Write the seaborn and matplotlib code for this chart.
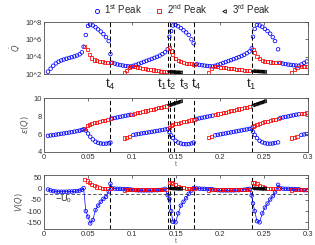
import numpy as np
import pandas as pd
import matplotlib
matplotlib.use("Agg")
import matplotlib.pyplot as plt
from matplotlib.lines import Line2D
import seaborn as sns

# ---- data ----
# 1st peak (blue circles)
t_blue = [0.0045, 0.0075, 0.0105, 0.0135, 0.0165, 0.0195, 0.0225, 0.0255, 0.0285, 0.0315, 0.0345, 0.0375, 0.0405, 0.0430, 0.0450,
          0.0475, 0.0500, 0.0525, 0.0555, 0.0585, 0.0615, 0.0645, 0.0675, 0.0705, 0.0735, 0.0755,
          0.0775, 0.0805, 0.0835, 0.0865, 0.0895, 0.0925, 0.0955, 0.0985,
          0.1015, 0.1045, 0.1075, 0.1105, 0.1135, 0.1165, 0.1195, 0.1225, 0.1255, 0.1285, 0.1315, 0.1345, 0.1375, 0.1405,
          0.1425, 0.1445, 0.1465, 0.1495, 0.1525, 0.1555, 0.1585, 0.1615, 0.1645, 0.1675, 0.1700,
          0.1735, 0.1765, 0.1795, 0.1825, 0.1855, 0.1885, 0.1915,
          0.1945, 0.1975, 0.2005, 0.2035, 0.2065, 0.2095, 0.2125, 0.2155, 0.2185, 0.2215, 0.2245, 0.2275, 0.2305, 0.2335, 0.2360,
          0.2375, 0.2395, 0.2420, 0.2450, 0.2480, 0.2510, 0.2540, 0.2570, 0.2600, 0.2625, 0.2660,
          0.2685, 0.2715, 0.2745, 0.2775, 0.2805, 0.2835, 0.2865, 0.2895,
          0.2925, 0.2955, 0.2985]
logq_blue = [2.27, 2.62, 2.95, 3.22, 3.42, 3.56, 3.67, 3.76, 3.85, 3.94, 4.03, 4.13, 4.27, 4.50, 5.15,
             6.5, 7.55, 7.7, 7.6, 7.4, 7.15, 6.9, 6.6, 6.25, 5.8, 4.3,
             3.3, 3.2, 3.1, 3.04, 2.98, 2.93, 2.89, 2.87,
             2.95, 3.05, 3.17, 3.28, 3.4, 3.52, 3.62, 3.74, 3.86, 3.98, 4.12, 4.3, 4.5, 4.85,
             6.3, 6.95, 7.6, 7.65, 7.5, 7.3, 7.05, 6.8, 6.5, 6.0, 5.55,
             3.12, 3.06, 3.01, 2.97, 2.93, 2.9, 2.87,
             2.95, 3.05, 3.15, 3.27, 3.38, 3.5, 3.6, 3.72, 3.83, 3.95, 4.08, 4.22, 4.4, 4.6, 4.95,
             6.3, 7.2, 7.65, 7.6, 7.45, 7.2, 6.95, 6.65, 6.25, 5.8, 4.85,
             3.28, 3.2, 3.14, 3.09, 3.05, 3.01, 2.98, 2.95,
             3.1, 3.28, 3.45]
eps_blue = [5.80, 5.84, 5.88, 5.93, 5.97, 6.02, 6.06, 6.11, 6.16, 6.21, 6.26, 6.32, 6.38, 6.44, 6.52,
            6.4, 6.05, 5.7, 5.4, 5.15, 5.02, 4.95, 4.92, 4.93, 4.97, 5.05,
            7.72, 7.78, 7.84, 7.9, 7.96, 8.02, 8.08, 8.14,
            5.9, 5.95, 6.0, 6.05, 6.1, 6.14, 6.19, 6.24, 6.29, 6.34, 6.39, 6.44, 6.5, 6.56,
            6.2, 5.85, 5.55, 5.25, 5.05, 4.95, 4.88, 4.86, 4.88, 4.95, 5.05,
            7.68, 7.74, 7.8, 7.86, 7.92, 7.98, 8.04,
            5.85, 5.91, 5.96, 6.02, 6.07, 6.13, 6.18, 6.24, 6.29, 6.35, 6.4, 6.46, 6.51, 6.57, 6.62,
            6.25, 5.9, 5.55, 5.25, 5.08, 4.98, 4.93, 4.92, 4.95, 5.0, 5.07,
            7.78, 7.84, 7.9, 7.96, 8.02, 8.08, 8.14, 8.2,
            5.9, 5.95, 6.0]
v_blue = [-3, -7, -10, -12, -13, -13, -13, -13, -12, -12, -11, -10, -8, -4, 3,
          -100, -125, -155, -140, -95, -75, -58, -45, -36, -12, 23,
          2, 1, 0, 0, -1, -1, -2, -3,
          -5, -6, -7, -7, -7, -7, -7, -7, -6, -6, -5, -4, 0, -28,
          -45, -100, -148, -150, -110, -75, -58, -42, -22, -8, 3,
          2, 1, 0, 0, -1, -1, -2,
          -5, -6, -7, -7, -7, -7, -7, -7, -6, -6, -5, -4, -2, 0, -30,
          -65, -100, -145, -150, -110, -84, -66, -48, -33, -15, 18,
          2, 1, 0, 0, -1, -1, -2, -2,
          -5, -6, -6]

# 2nd peak (red squares)
t_red = [0.0465, 0.0490, 0.0515, 0.0540, 0.0570, 0.0600, 0.0630, 0.0660, 0.0690, 0.0720, 0.0755,
         0.0910, 0.0940, 0.0970,
         0.1000, 0.1030, 0.1060, 0.1090, 0.1120, 0.1150, 0.1180, 0.1210, 0.1240, 0.1270, 0.1300, 0.1330, 0.1360, 0.1390,
         0.1425, 0.1445, 0.1465, 0.1495, 0.1525, 0.1555, 0.1585, 0.1615, 0.1645, 0.1675, 0.1705,
         0.1870, 0.1900,
         0.1945, 0.1975, 0.2005, 0.2035, 0.2065, 0.2095, 0.2125, 0.2155, 0.2185, 0.2215, 0.2245, 0.2275, 0.2305, 0.2335,
         0.2375, 0.2395, 0.2420, 0.2450, 0.2480, 0.2510, 0.2540, 0.2570, 0.2600, 0.2630, 0.2660,
         0.2815, 0.2845, 0.2875,
         0.2925, 0.2955, 0.2985]
logq_red = [5.2, 4.8, 4.3, 3.85, 3.62, 3.52, 3.45, 3.4, 3.36, 3.33, 3.3,
            2.15, 2.45, 2.72,
            2.85, 2.82, 2.78, 2.73, 2.68, 2.62, 2.57, 2.52, 2.46, 2.41, 2.37, 2.33, 2.3, 2.27,
            5.0, 4.65, 4.2, 3.8, 3.55, 3.42, 3.33, 3.26, 3.2, 3.16, 3.13,
            2.2, 2.6,
            2.88, 2.84, 2.8, 2.76, 2.72, 2.68, 2.64, 2.6, 2.56, 2.52, 2.48, 2.44, 2.4, 2.36,
            4.85, 4.45, 4.0, 3.75, 3.58, 3.48, 3.42, 3.38, 3.34, 3.31, 3.28,
            2.2, 2.5, 2.75,
            2.9, 2.88, 2.86]
eps_red = [6.65, 6.9, 7.05, 7.15, 7.23, 7.3, 7.38, 7.46, 7.54, 7.62, 7.7,
           5.55, 5.62, 5.7,
           8.2, 8.27, 8.34, 8.41, 8.48, 8.55, 8.62, 8.69, 8.76, 8.83, 8.9, 8.97, 9.04, 9.11,
           6.7, 6.9, 7.02, 7.12, 7.2, 7.27, 7.34, 7.41, 7.48, 7.55, 7.62,
           5.63, 5.72,
           8.15, 8.22, 8.29, 8.36, 8.43, 8.5, 8.57, 8.64, 8.71, 8.78, 8.85, 8.92, 8.99, 9.06,
           6.8, 6.95, 7.08, 7.18, 7.27, 7.35, 7.43, 7.5, 7.58, 7.66, 7.74,
           5.55, 5.62, 5.7,
           8.25, 8.32, 8.4]
v_red = [42, 35, 28, 20, 13, 8, 5, 3, 2, 1, 0,
         -5, -4, -3,
         -1, -2, -2, -2, -3, -3, -3, -3, -3, -2, -2, -2, -1, -1,
         30, 28, 24, 18, 12, 7, 4, 2, 1, 0, 0,
         -5, -4,
         -1, -2, -2, -2, -3, -3, -3, -3, -3, -2, -2, -2, -1, -1,
         30, 26, 22, 15, 10, 6, 3, 1, 0, 0, 0,
         -5, -4, -3,
         -2, -2, -2]

# 3rd peak (black triangles)
t_black = [0.1420, 0.1435, 0.1450, 0.1465, 0.1480, 0.1495, 0.1510, 0.1525, 0.1540, 0.1555,
           0.2375, 0.2390, 0.2405, 0.2420, 0.2435, 0.2450, 0.2465, 0.2480, 0.2495, 0.2510]
logq_black = [2.26, 2.25, 2.24, 2.23, 2.22, 2.21, 2.2, 2.19, 2.18, 2.17,
              2.33, 2.32, 2.31, 2.3, 2.29, 2.28, 2.27, 2.26, 2.25, 2.24]
eps_black = [9.2, 9.25, 9.3, 9.35, 9.4, 9.45, 9.5, 9.55, 9.6, 9.65,
             9.2, 9.25, 9.3, 9.35, 9.4, 9.45, 9.5, 9.55, 9.6, 9.65]
v_black = [2, 2, 1, 1, 1, 0, 0, 0, 0, 0,
           2, 2, 1, 1, 1, 0, 0, 0, 0, 0]

# event times (dashed lines) and their labels
t_events = [0.0755, 0.1405, 0.1435, 0.1477, 0.1705, 0.2360]
event_labels = ['t_4', 't_1', 't_2', 't_3', 't_4', 't_1']
event_label_x = [0.0750, 0.1340, 0.1450, 0.1590, 0.1735, 0.2360]
u0 = 22

blue = pd.DataFrame({'t': t_blue, 'Q': 10.0 ** np.array(logq_blue), 'eps': eps_blue, 'V': v_blue})
red = pd.DataFrame({'t': t_red, 'Q': 10.0 ** np.array(logq_red), 'eps': eps_red, 'V': v_red})
black = pd.DataFrame({'t': t_black, 'Q': 10.0 ** np.array(logq_black), 'eps': eps_black, 'V': v_black})

sns.set_style('white')
plt.rcParams['font.family'] = ['Liberation Sans', 'DejaVu Sans']
plt.rcParams['axes.unicode_minus'] = False

fig = plt.figure(figsize=(3.15, 2.45), dpi=100)
left, width = 44 / 315, 264 / 315
ax_q = fig.add_axes([left, 1 - 74 / 245, width, 52 / 245])
ax_e = fig.add_axes([left, 1 - 152 / 245, width, 54 / 245])
ax_v = fig.add_axes([left, 1 - 229 / 245, width, 54 / 245])


def draw(ax, col):
    sns.scatterplot(data=blue, x='t', y=col, ax=ax, marker='o', facecolors='none',
                    edgecolor='#0000ff', s=6.5, linewidth=0.55)
    sns.scatterplot(data=red, x='t', y=col, ax=ax, marker='s', facecolors='none',
                    edgecolor='#ff0000', s=5, linewidth=0.55)
    sns.scatterplot(data=black, x='t', y=col, ax=ax, marker='<', facecolors='none',
                    edgecolor='black', s=5, linewidth=0.6)
    for te in t_events:
        ax.axvline(te, color='black', ls=(0, (4, 2.5)), lw=0.75, zorder=0)


draw(ax_q, 'Q')
draw(ax_e, 'eps')
sns.lineplot(data=blue, x='t', y='V', ax=ax_v, sort=False, estimator=None,
             color='#0000ff', lw=0.5, zorder=1)
draw(ax_v, 'V')
ax_v.axhline(-u0, color='0.25', ls=(0, (4, 2.5)), lw=0.6, zorder=0)
ax_v.text(0.012, -48, r'$\mathregular{-U_0}$', fontsize=6.5, ha='left', va='center')

ax_q.set_yscale('log')
ax_q.set_ylim(1e2, 1e8)
ax_q.set_yticks([1e2, 1e4, 1e6, 1e8])
ax_q.set_yticklabels(['10^2', '10^4', '10^6', '10^8'])
ax_q.minorticks_off()

ax_e.set_ylim(4, 10)
ax_e.set_yticks([4, 6, 8, 10])
ax_v.set_ylim(-180, 62)
ax_v.set_yticks([-150, -100, -50, 0, 50])

for ax in (ax_q, ax_e, ax_v):
    ax.set_xlim(0, 0.3)
    ax.set_xticks([0, 0.05, 0.1, 0.15, 0.2, 0.25, 0.3])
    ax.tick_params(direction='in', length=2, width=0.5, labelsize=5.5, pad=1.5,
                   top=True, right=True, colors='0.2')
    for sp in ax.spines.values():
        sp.set_linewidth(0.6)
        sp.set_color('0.3')
    ax.set_xlabel('')
ax_e.set_xticklabels(['0', '0.05', '0.1', '0.15', '0.2', '0.25', '0.3'])
ax_v.set_xticklabels(['0', '0.05', '0.1', '0.15', '0.2', '0.25', '0.3'])
ax_q.set_xticklabels([])

ax_e.set_xlabel('t', fontsize=5, color='0.4', labelpad=0)
ax_v.set_xlabel('t', fontsize=5, color='0.4', labelpad=0)
ax_q.set_ylabel(r'$\dot{Q}$', fontsize=6, color='0.35', labelpad=2)
ax_e.set_ylabel(r'$\varepsilon(Q)$', fontsize=6, color='0.35', labelpad=2)
ax_v.set_ylabel(r'$V(Q)$', fontsize=6, color='0.35', labelpad=1)

# event labels under the top panel
for lx, lab in zip(event_label_x, event_labels):
    ax_q.text(lx, -0.06, r'$\mathregular{' + lab + '}$', transform=ax_q.get_xaxis_transform(),
              ha='center', va='top', fontsize=9.5)

handles = [
    Line2D([], [], ls='', marker='o', mfc='none', mec='#0000ff', ms=3, mew=0.6),
    Line2D([], [], ls='', marker='s', mfc='none', mec='#ff0000', ms=2.6, mew=0.6),
    Line2D([], [], ls='', marker='<', mfc='none', mec='black', ms=2.6, mew=0.6),
]
labels = [r'1$^{\mathregular{st}}$ Peak', r'2$^{\mathregular{nd}}$ Peak', r'3$^{\mathregular{rd}}$ Peak']
fig.legend(handles, labels, loc='center', bbox_to_anchor=(0.575, 0.962), ncol=3,
           frameon=False, fontsize=7, handletextpad=0.3, columnspacing=1.2,
           handlelength=1.0, borderpad=0)

fig.savefig('out.png', dpi=100)
